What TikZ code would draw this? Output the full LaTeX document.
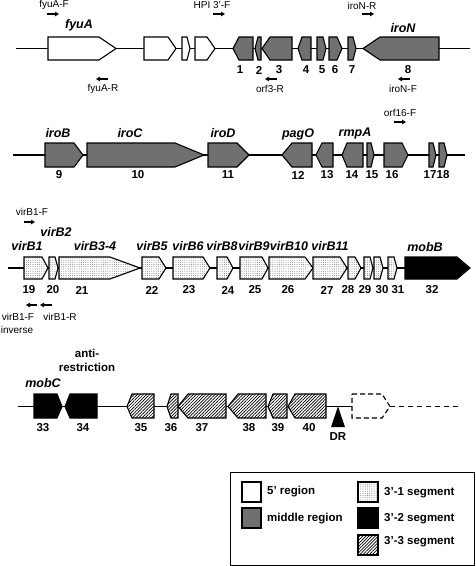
\documentclass[tikz,border=0pt]{standalone}
\usepackage{fontspec}
\setmainfont{Liberation Sans}
\usetikzlibrary{patterns.meta,arrows.meta}
\definecolor{midgray}{RGB}{112,112,112}
\newcommand\gR[4]{\draw[#1] (#2,\yt) -- (#3,\yt) -- (#4,\yc) -- (#3,\yb) -- (#2,\yb) -- cycle;}
\newcommand\gL[4]{\draw[#1] (#2,\yc) -- (#3,\yt) -- (#4,\yt) -- (#4,\yb) -- (#3,\yb) -- cycle;}
\newcommand\prim[4]{\coordinate (#1s) at (#2,#4); \coordinate (#1e) at (#3,#4); \draw[primarrow] (#1s) -- (#1e);}
\newcommand\nlab[3]{\node[numlab] (n#3) at (#1,#2) {#3};}
\begin{document}
\begin{tikzpicture}[x=1pt,y=-1pt,
  gene/.style={draw=black, line width=1.1pt, line join=miter},
  five/.style={gene, fill=white},
  mid/.style={gene, fill=midgray},
  segone/.style={gene, preaction={fill=white}, pattern={Dots[distance=2.2pt,radius=0.35pt]}, pattern color=black!85},
  segtwo/.style={gene, fill=black},
  segthree/.style={gene, preaction={fill=white}, pattern={Lines[angle=45,distance=2.2pt,line width=0.7pt]}, pattern color=black},
  backbone/.style={line width=1.3pt},
  primarrow/.style={line width=1.1pt, -{Triangle[length=4pt,width=4.5pt]}},
  numlab/.style={font=\fontsize{11.5}{13}\selectfont\bfseries, inner sep=0pt},
  genelab/.style={font=\fontsize{12.5}{14}\selectfont\bfseries\itshape, inner sep=0pt},
  primlab/.style={font=\fontsize{10}{11}\selectfont, inner sep=0pt},
  leglab/.style={font=\fontsize{11.5}{13}\selectfont\bfseries, inner sep=0pt, anchor=west},
  swatch/.style={line width=1.2pt}
]
\useasboundingbox (0,0) rectangle (475,566);

% ---------- Row 1 ----------
\def\yt{37}\def\yb{60}\def\yc{48.5}
\coordinate (r1a) at (16,\yc); \coordinate (r1b) at (470,\yc);
\draw[backbone] (r1a) -- (r1b);
\gR{five}{48}{99}{116}
\gR{five}{144}{168}{176}
\gR{five}{182}{187}{190}
\gR{five}{195}{207}{215}
\gL{mid}{233}{239}{253}
\gL{mid}{255}{258}{261}
\gL{mid}{262}{270}{292}
\gL{mid}{298}{302}{311}
\gR{mid}{317}{323}{326}
\gR{mid}{329}{337}{342}
\gR{mid}{348}{353}{356}
\gL{mid}{363}{380}{439}
\node[genelab] (fyuA) at (79,25) {fyuA};
\node[genelab] (iroN) at (403,28) {iroN};
\nlab{240}{70}{1}\nlab{259}{70}{2}\nlab{279}{70}{3}\nlab{306}{70}{4}
\nlab{322}{70}{5}\nlab{335}{70}{6}\nlab{352}{70}{7}\nlab{408}{70}{8}
\node[primlab] (pfyuAF) at (54,5) {fyuA-F};
\prim{afyuAF}{47}{59}{14}
\node[primlab] (pHPI) at (212,5) {HPI 3'-F};
\prim{aHPI}{213}{225}{14}
\node[primlab] (piroNR) at (362,6) {iroN-R};
\prim{airoNR}{362}{374}{14}
\prim{afyuAR}{108}{96}{79}
\node[primlab] (pfyuAR) at (103,89) {fyuA-R};
\prim{aorfR}{277}{265}{79}
\node[primlab] (porfR) at (270,89) {orf3-R};
\prim{airoNF}{410}{398}{79}
\node[primlab] (piroNF) at (403,89) {iroN-F};

% ---------- Row 2 ----------
\def\yt{143}\def\yb{167}\def\yc{155}
\coordinate (r2a) at (13,\yc); \coordinate (r2b) at (465,\yc);
\draw[backbone] (r2a) -- (r2b);
\gR{mid}{45}{74}{83}
\gR{mid}{87}{175}{204}
\gR{mid}{208}{237}{249}
\gL{mid}{282}{292}{312}
\gL{mid}{316}{322}{333}
\gL{mid}{342}{347}{363}
\gR{mid}{367}{371}{374}
\gR{mid}{384}{402}{408}
\gR{mid}{429}{433}{436}
\gR{mid}{439}{444}{447}
\node[genelab] (iroB) at (58,133) {iroB};
\node[genelab] (iroC) at (130,133) {iroC};
\node[genelab] (iroD) at (223,133) {iroD};
\node[genelab] (pagO) at (298,134) {pagO};
\node[genelab] (rmpA) at (355,133) {rmpA};
\node[primlab] (porf16) at (400,113) {orf16-F};
\prim{aorf16}{394}{406}{122}
\nlab{59}{175}{9}\nlab{138}{175}{10}\nlab{228}{175}{11}\nlab{298}{175}{12}
\nlab{327}{175}{13}\nlab{352}{175}{14}\nlab{372}{175}{15}\nlab{392}{175}{16}
\nlab{430}{175}{17}\nlab{443}{175}{18}

% ---------- Row 3 ----------
\def\yt{257}\def\yb{279}\def\yc{268}
\coordinate (r3a) at (8,\yc); \coordinate (r3b) at (405,\yc);
\draw[backbone] (r3a) -- (r3b);
\gR{segone}{24}{42}{48}
\gR{segone}{49}{55}{58}
\gR{segone}{59}{110}{140}
\gR{segone}{142}{159}{166}
\gR{segone}{173}{203}{210}
\gR{segone}{217}{227}{233}
\gR{segone}{240}{262}{268}
\gR{segone}{269}{305}{313}
\gR{segone}{313}{340}{347}
\gR{segone}{348}{355}{361}
\gR{segone}{364}{370}{373}
\gR{segone}{374}{380}{383}
\gR{segone}{388}{394}{397}
\gR{segtwo}{405}{457}{470}
\node[genelab] (virB1) at (27,246) {virB1};
\node[genelab] (virB2) at (56,232) {virB2};
\node[genelab] (virB34) at (95,246) {virB3-4};
\node[genelab] (virB5) at (152,246) {virB5};
\node[genelab] (virB6) at (188,246) {virB6};
\node[genelab] (virB8) at (222,246) {virB8};
\node[genelab] (virB9) at (254,246) {virB9};
\node[genelab] (virB10) at (289,246) {virB10};
\node[genelab] (virB11) at (330,246) {virB11};
\node[genelab] (mobB) at (425,247) {mobB};
\node[primlab] (pvirF) at (32,212) {virB1-F};
\prim{avirF}{24}{35}{222}
\nlab{29}{290}{19}\nlab{53}{290}{20}\nlab{82}{290}{21}\nlab{152}{290}{22}
\nlab{189}{290}{23}\nlab{228}{290}{24}\nlab{255}{290}{25}\nlab{288}{290}{26}
\nlab{327}{290}{27}\nlab{348}{290}{28}\nlab{365}{290}{29}\nlab{382}{290}{30}
\nlab{398}{290}{31}\nlab{432}{290}{32}
\prim{avirFi}{37}{26}{305}
\prim{avirR}{52}{40}{305}
\node[primlab] (pvirFi) at (18,317) {virB1-F};
\node[primlab] (pinv) at (17,330) {inverse};
\node[primlab] (pvirR) at (60,317) {virB1-R};

% ---------- Row 4 ----------
\def\yt{394}\def\yb{418}\def\yc{406.5}
\coordinate (r4a) at (18,\yc); \coordinate (r4b) at (352,\yc);
\coordinate (r4c) at (390,\yc); \coordinate (r4d) at (460,\yc);
\draw[backbone] (r4a) -- (r4b);
\draw[backbone, dash pattern=on 5pt off 4pt] (r4c) -- (r4d);
\gR{segtwo}{34}{57}{62}
\gL{segtwo}{65}{70}{97}
\gL{segthree}{127}{132}{154}
\gL{segthree}{167}{171}{178}
\gL{segthree}{178}{188}{226}
\gL{segthree}{228}{238}{266}
\gL{segthree}{268}{273}{287}
\gL{segthree}{288}{295}{326}
\gR{gene, fill=white, dash pattern=on 5pt off 3pt}{352}{382}{390}
\coordinate (drtop) at (338,\yc);
\fill (drtop) -- (331,427) -- (345,427) -- cycle;
\node[numlab] (DR) at (338,437) {DR};
\node[numlab] (anti) at (87,353) {anti-};
\node[numlab] (restr) at (87,367) {restriction};
\node[genelab] (mobC) at (43,383) {mobC};
\nlab{43}{428}{33}\nlab{83}{428}{34}\nlab{141}{428}{35}\nlab{171}{428}{36}
\nlab{202}{428}{37}\nlab{249}{428}{38}\nlab{278}{428}{39}\nlab{309}{428}{40}

% ---------- Legend ----------
\draw[line width=1pt] (230,472) rectangle (474,565);
\draw[swatch, fill=white] (242,482) rectangle (261,502);
\node[leglab] (l5) at (267,492) {5' region};
\draw[swatch, fill=midgray] (242,508) rectangle (261,528);
\node[leglab] (lmid) at (267,519) {middle region};
\draw[swatch, preaction={fill=white}, pattern={Dots[distance=2.2pt,radius=0.35pt]}, pattern color=black!85] (358,482) rectangle (378,502);
\node[leglab] (l31) at (384,493) {3'-1 segment};
\draw[swatch, fill=black] (358,508) rectangle (378,528);
\node[leglab] (l32) at (384,519) {3'-2 segment};
\draw[swatch, preaction={fill=white}, pattern={Lines[angle=45,distance=2.2pt,line width=0.7pt]}, pattern color=black] (358,535) rectangle (378,555);
\node[leglab] (l33) at (384,542) {3'-3 segment};
\end{tikzpicture}
\end{document}
